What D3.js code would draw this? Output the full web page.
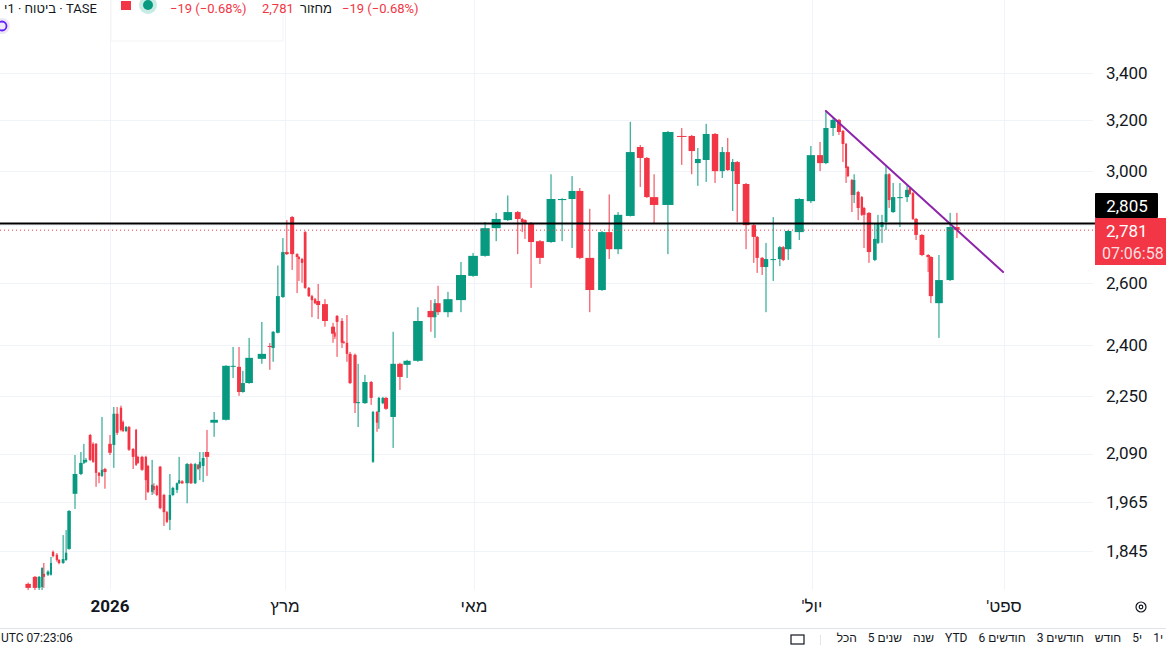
<!DOCTYPE html>
<html><head><meta charset="utf-8">
<script src="https://cdn.jsdelivr.net/npm/d3@7"></script>
<style>html,body{margin:0;padding:0;background:#fff;overflow:hidden}svg{display:block;font-family:Roboto,"Liberation Sans",sans-serif}</style>
</head><body><svg id="c" width="1166" height="645"></svg>
<script>
// ---- DATA ----
// candle time position in days since 1 Jan 2026 (chart time axis)
const days=[-27.6,-25.3,-23.9,-22.9,-22.3,-20.9,-19.9,-19.2,-17.9,-17.2,
-15.8,-14.8,-13.8,-11.8,-9.8,-8.8,-8.1,-6.7,-5.7,-4.7,
-3.7,-2.7,-1.7,0,1.3,2.4,3.7,4.4,5.4,6.4,
7.8,8.8,9.4,10.8,12.1,12.8,14.2,14.8,15.8,16.9,
18.2,19.2,20.2,21.2,22.6,23.3,24.3,26.0,27.3,28.7,
29.7,30.3,31.4,32.7,35.1,39.1,41.5,43.5,44.8,46.9,
51.2,53.9,55.0,56.6,58.3,59.6,61.3,62.9,63.5,64.5,
65.5,66.7,67.7,68.7,69.7,71.9,74.5,75.1,75.8,77.4,
78.0,79.0,80.0,81.6,82.6,84.8,86.8,87.4,88.7,89.3,
90.6,91.6,93.9,96.1,98.4,101.9,106.1,107.4,108.4,111.6,
115.8,119.7,122.0,124.0,126.1,127.9,128.7,129.2,130.3,131.9,
133.9,135.9,137.7,139.1,140.9,143.1,144.4,146.0,148.2,150.0,
151.2,152.5,155.0,157.5,159.3,160.4,161.9,163.5,164.8,165.8,
166.7,167.5,169.1,170.5,171.1,172.0,172.7,174.0,175.2,175.8,
176.7,178.7,180.8,183.6,185.5,187.8,189.7,191.0,192.0,192.6,
193.9,194.6,195.9,197.1,197.8,199.4,201.3,202.3,203.6,204.9,
205.9,207.2,209.4,211.7,212.6,213.6,214.6,216.5,218.5,219.4,
222.0,225.6,227.8];
const opens=[1769,1785,1760,1762,1792,1790,1790,1843,1836,1824,
1817,1824,1850,1985,2036,2065,2068,2140,2116,2116,
2039,2031,2049,2116,2113,2199,2216,2176,2151,2162,
2102,2154,2081,2081,2081,2057,1990,2005,2005,2055,
1982,1939,1920,1982,1995,2012,2017,2012,2062,2012,
2060,2052,2057,2094,2174,2182,2335,2335,2261,2287,
2359,2398,2392,2439,2553,2704,2828,2697,2687,2680,
2774,2583,2556,2546,2540,2530,2458,2439,2492,2476,
2411,2408,2374,2371,2229,2229,2290,2068,2204,2204,
2229,2244,2190,2344,2341,2353,2508,2488,2533,2504,
2543,2623,2691,2788,2817,2846,2821,2817,2806,2742,
2739,2890,2894,2924,2684,2576,2774,2714,2832,3093,
3050,2901,2872,3137,3137,3030,3042,3145,2999,3073,
2999,3034,2950,2799,2757,2684,2653,2677,2680,2721,
2714,2774,2886,3061,3030,3169,3202,3157,3105,3015,
2965,2909,2920,2901,2861,2843,2677,2736,2792,2810,
2987,2846,2897,2901,2935,2916,2821,2764,2694,2687,
2533,2609,2792];
const highs=[1772,1787,1787,1806,1817,1800,1831,1846,1840,1826,
1883,1895,1944,2086,2094,2116,2078,2143,2120,2118,
2041,2190,2052,2140,2218,2218,2222,2180,2165,2165,
2105,2157,2084,2084,2084,2060,2073,2012,2008,2057,
1985,1942,2036,2003,2014,2081,2020,2065,2065,2065,
2062,2094,2094,2154,2204,2340,2395,2395,2323,2423,
2473,2407,2444,2658,2753,2817,2832,2700,2690,2684,
2778,2586,2560,2550,2596,2546,2470,2442,2495,2485,
2414,2495,2380,2375,2344,2311,2293,2207,2207,2247,
2247,2247,2442,2347,2356,2520,2543,2546,2590,2570,
2670,2701,2810,2843,2907,2850,2825,2820,2810,2746,
2987,2897,2980,2935,2858,2778,2911,2846,3194,3101,
3054,2987,3157,3169,3141,3089,3186,3149,3093,3129,
3046,3038,2954,2803,2760,2687,2736,2828,2725,2725,
2781,2897,3097,3113,3239,3210,3206,3161,3109,3019,
2969,2987,2924,2905,2865,2846,2806,2836,2836,3019,
2991,2954,2954,2946,2939,2920,2825,2767,2697,2690,
2694,2843,2843];
const lows=[1750,1751,1750,1755,1760,1787,1788,1830,1820,1814,
1815,1822,1848,1947,2033,2062,2065,2070,2065,2003,
2012,2028,1998,2086,2052,2140,2150,2148,2148,2097,
2049,2057,2062,2044,1969,1987,1982,1985,1979,1946,
1905,1912,1895,1979,1987,2010,2010,1961,2010,2010,
2047,2020,2015,2031,2135,2180,2302,2250,2259,2285,
2344,2326,2350,2437,2550,2694,2643,2566,2606,2600,
2580,2553,2488,2530,2482,2458,2408,2420,2365,2392,
2405,2350,2284,2201,2162,2227,2224,2065,2149,2157,
2226,2210,2105,2267,2302,2350,2442,2423,2495,2488,
2504,2620,2688,2742,2814,2697,2774,2750,2583,2663,
2736,2742,2718,2680,2504,2573,2680,2697,2830,2939,
2898,2803,2697,3023,2987,2943,2958,2954,2973,3000,
2850,2810,2714,2667,2633,2626,2504,2606,2656,2673,
2677,2746,2879,2999,3026,3137,3141,3034,2954,2976,
2846,2879,2817,2832,2718,2667,2673,2732,2736,2781,
2861,2843,2792,2883,2909,2817,2746,2690,2636,2533,
2423,2606,2753];
const closes=[1760,1760,1785,1806,1785,1797,1817,1833,1824,1817,
1826,1841,1942,2036,2065,2073,2073,2073,2068,2039,
2031,2047,2041,2092,2199,2146,2154,2151,2162,2100,
2081,2060,2065,2047,2020,1990,2008,1995,1982,1949,
1939,1915,1982,2000,2012,2020,2012,2062,2012,2062,
2049,2068,2078,2081,2182,2338,2338,2261,2287,2362,
2374,2395,2442,2556,2704,2697,2697,2687,2680,2667,
2583,2556,2543,2533,2527,2476,2436,2427,2473,2408,
2408,2374,2287,2229,2232,2290,2244,2204,2174,2244,
2244,2213,2344,2305,2353,2476,2488,2533,2504,2546,
2626,2691,2788,2821,2846,2821,2810,2806,2739,2684,
2894,2894,2924,2684,2576,2774,2714,2836,3073,3050,
2901,2872,3153,3133,3077,3046,3145,2999,3073,3003,
3034,2950,2799,2757,2684,2653,2680,2680,2721,2677,
2778,2894,3061,3030,3169,3202,3153,3105,3011,2980,
2909,2965,2861,2836,2836,2704,2750,2806,2810,2987,
2890,2901,2901,2928,2913,2821,2764,2694,2687,2556,
2609,2792,2781];
const gridPrices=[1845,1965,2090,2250,2400,2600,2800,3000,3200,3400];
const labelPrices=[1845,1965,2090,2250,2400,2600,3000,3200,3400];
const monthLabels=["2026","מרץ","מאי","יול'","ספט'"];
const monthDays=[0,59,120,181,243];
const hLinePrice=2805;
const lastPrice=2781;
const countdown="07:06:58";
const trendDays=[185.5,242.7];
const trendPrices=[3239,2636];
const rangeButtons=["1י","5י","חודש","3 חודשים","6 חודשים","YTD","שנה","5 שנים","הכל"];

// ---- LAYOUT ----
const W=1166,H=645,plotR=1093,plotB=590;
const GREEN="#089981",RED="#f23645",TXT="#131722",GRID="#f0f3fa";
const svg=d3.select("#c");
const x=d3.scaleLinear().domain(monthDays).range([110,285,474,812,1004]);
const y=d3.scaleLog().domain([1845,3400]).range([551,73]);

svg.append("defs").append("clipPath").attr("id","plot").append("rect")
  .attr("x",0).attr("y",0).attr("width",plotR).attr("height",plotB);

// grid
const g=svg.append("g");
g.selectAll(".vg").data(monthDays).join("line")
  .attr("x1",d=>Math.round(x(d))+0.5).attr("x2",d=>Math.round(x(d))+0.5).attr("y1",0).attr("y2",plotB)
  .attr("stroke",GRID).attr("stroke-width",1);
g.selectAll(".hg").data(gridPrices).join("line")
  .attr("x1",0).attr("x2",plotR).attr("y1",d=>Math.round(y(d))+0.5).attr("y2",d=>Math.round(y(d))+0.5)
  .attr("stroke",GRID).attr("stroke-width",1);

// candles
const data=days.map((d,i)=>({d,o:opens[i],h:highs[i],l:lows[i],c:closes[i]}));
const xs=data.map(e=>x(e.d));
data.forEach((e,i)=>{
  const gl=i>0?xs[i]-xs[i-1]:xs[i+1]-xs[i];
  const gr=i<xs.length-1?xs[i+1]-xs[i]:gl;
  e.w=Math.max(1.5,Math.min(12,0.8*(gl+gr)/2));
});
const cg=svg.append("g").attr("clip-path","url(#plot)");
const cand=cg.selectAll(".cd").data(data).join("g");
cand.append("line")
  .attr("x1",e=>x(e.d)).attr("x2",e=>x(e.d))
  .attr("y1",e=>y(e.h)).attr("y2",e=>y(e.l))
  .attr("stroke",e=>e.c>=e.o?GREEN:RED).attr("stroke-width",1);
cand.append("rect")
  .attr("x",e=>x(e.d)-e.w/2).attr("width",e=>e.w)
  .attr("y",e=>y(Math.max(e.o,e.c)))
  .attr("height",e=>Math.max(1,y(Math.min(e.o,e.c))-y(Math.max(e.o,e.c))))
  .attr("fill",e=>e.c>=e.o?GREEN:RED);

// trend line
cg.append("line")
  .attr("x1",x(trendDays[0])).attr("y1",y(trendPrices[0]))
  .attr("x2",x(trendDays[1])).attr("y2",y(trendPrices[1]))
  .attr("stroke","#8e24aa").attr("stroke-width",2).attr("stroke-linecap","round");

// horizontal line & last price line
svg.append("line").attr("x1",0).attr("x2",plotR+2).attr("y1",y(hLinePrice)).attr("y2",y(hLinePrice))
  .attr("stroke","#000").attr("stroke-width",2);
svg.append("line").attr("x1",0).attr("x2",plotR).attr("y1",y(lastPrice)).attr("y2",y(lastPrice))
  .attr("stroke",RED).attr("stroke-width",1).attr("stroke-dasharray","1,3");

// price axis
const ya=d3.axisRight(y).tickValues(labelPrices).tickFormat(d3.format(",")).tickSize(0).tickPadding(0);
const yag=svg.append("g").attr("transform",`translate(1106,0)`).call(ya);
yag.select(".domain").remove();
yag.selectAll("text").attr("font-size",17).attr("fill",TXT).attr("font-family","Roboto,'Liberation Sans',sans-serif");

// price labels
svg.append("rect").attr("x",1095).attr("y",193).attr("width",63).attr("height",25).attr("fill","#000").attr("rx",1);
svg.append("text").attr("x",1127).attr("y",212).attr("text-anchor","middle").attr("fill","#fff")
  .attr("font-size",17).text(d3.format(",")(hLinePrice));
svg.append("rect").attr("x",1095).attr("y",218).attr("width",80).attr("height",47).attr("fill",RED);
svg.append("text").attr("x",1106).attr("y",237).attr("fill","#fff").attr("font-size",17).text(d3.format(",")(lastPrice));
svg.append("text").attr("x",1102).attr("y",259).attr("fill","#fff").attr("fill-opacity",0.85).attr("font-size",16).text(countdown);

// time axis labels
svg.selectAll(".ml").data(monthLabels).join("text")
  .attr("x",(d,i)=>x(monthDays[i])).attr("y",612).attr("text-anchor","middle")
  .attr("direction","rtl").attr("unicode-bidi","embed")
  .attr("font-size",17).attr("fill",TXT).attr("font-weight",(d,i)=>i===0?"bold":"normal").text(d=>d);

// settings icon
svg.append("circle").attr("cx",1141).attr("cy",607).attr("r",5).attr("fill","none").attr("stroke",TXT).attr("stroke-width",1.2);
svg.append("circle").attr("cx",1141).attr("cy",607).attr("r",1.8).attr("fill","none").attr("stroke",TXT).attr("stroke-width",1.2);

// bottom toolbar
svg.append("line").attr("x1",0).attr("x2",W).attr("y1",628.5).attr("y2",628.5).attr("stroke","#e0e3eb");
svg.append("text").attr("x",1).attr("y",642).attr("font-size",12).attr("fill",TXT).text("UTC 07:23:06");
let bx=1163;
const bt=svg.append("g");
rangeButtons.forEach(t=>{
  const tx=bt.append("text").attr("y",642).attr("font-size",12).attr("fill",TXT).attr("text-anchor","end").attr("x",bx).text(t);
  bx-=tx.node().getComputedTextLength()+11;
});
svg.append("line").attr("x1",820.5).attr("x2",820.5).attr("y1",635).attr("y2",645).attr("stroke","#e0e3eb");
svg.append("rect").attr("x",791).attr("y",635).attr("width",13).attr("height",9).attr("fill","none").attr("stroke",TXT).attr("stroke-width",1.2);

// header (top edge)
svg.append("rect").attr("x",111).attr("y",-5).attr("width",172).attr("height",46).attr("fill","none").attr("stroke","#f3f3f3");
svg.append("text").attr("x",4).attr("y",13).attr("font-size",13).attr("fill",TXT).text("ביטוח · 1י · TASE");
svg.append("rect").attr("x",121).attr("y",1).attr("width",10).attr("height",9).attr("fill",RED);
svg.append("circle").attr("cx",148).attr("cy",5).attr("r",9).attr("fill","#c8ece4");
svg.append("circle").attr("cx",148).attr("cy",5).attr("r",5).attr("fill",GREEN);
svg.append("text").attr("x",170).attr("y",13).attr("font-size",13).attr("fill",RED).text("−19 (−0.68%)");
svg.append("text").attr("x",262).attr("y",13).attr("font-size",13).attr("fill",RED).text("2,781");
svg.append("text").attr("x",300).attr("y",13).attr("font-size",13).attr("fill",TXT).text("מחזור");
svg.append("text").attr("x",342).attr("y",13).attr("font-size",13).attr("fill",RED).text("−19 (−0.68%)");
svg.append("circle").attr("cx",2).attr("cy",26).attr("r",8).attr("fill","#ede7f6");
svg.append("circle").attr("cx",2).attr("cy",26).attr("r",4.5).attr("fill","none").attr("stroke","#651fff").attr("stroke-width",1.8);
</script></body></html>
